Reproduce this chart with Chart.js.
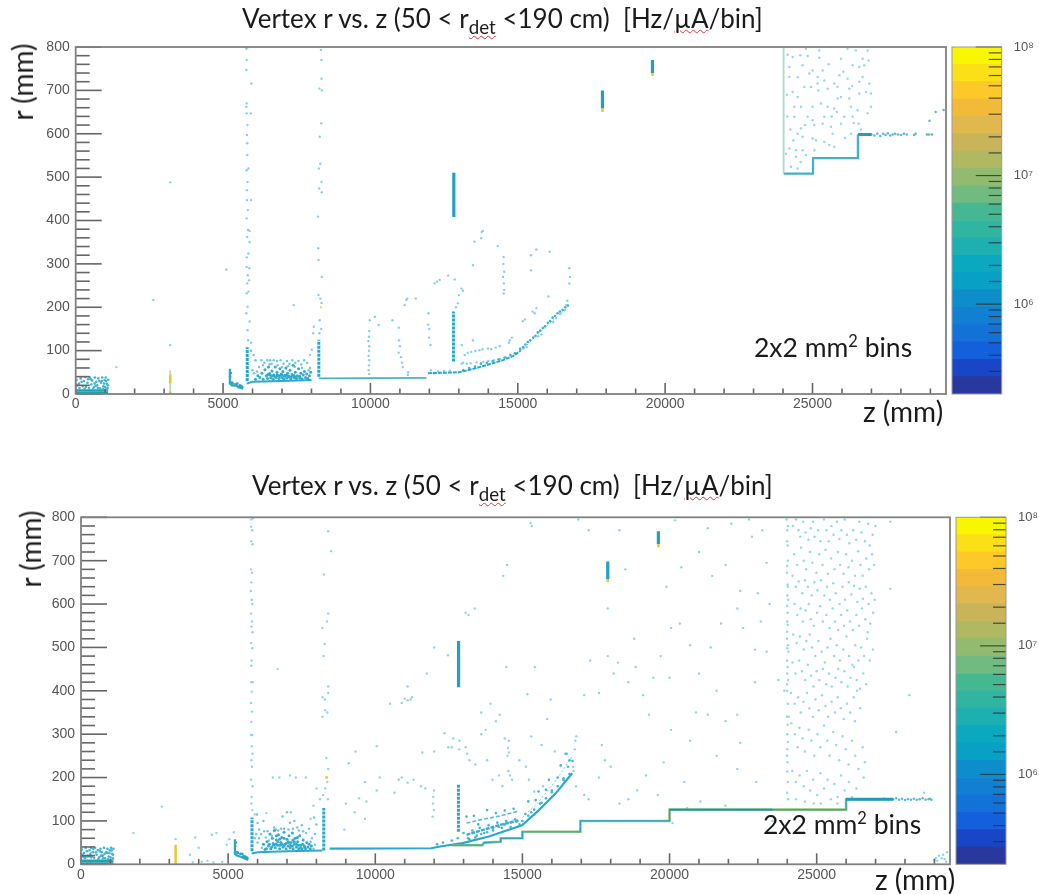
<!DOCTYPE html>
<html>
<head>
<meta charset="utf-8">
<title>Vertex r vs. z</title>
<script src="https://cdn.jsdelivr.net/npm/chart.js@4"></script>
<style>
html, body { margin: 0; padding: 0; background: #fff; overflow: hidden; width: 1039px; height: 895px; }
canvas { position: absolute; filter: blur(0.45px); }
.note { position: absolute; font-family: Lato, "Open Sans", sans-serif; color: #1a1a1a; white-space: pre; filter: blur(0.3px); }
.title { font-size: 26px; }
.axis { font-size: 28px; }
.bins { font-size: 26.5px; }
.note sub { font-size: 0.72em; line-height: 0; }
.note sup { font-size: 0.62em; line-height: 0; }
.spell { text-decoration: underline wavy #d9363e 1px; }
.rot { transform: translate(-50%, -50%) rotate(-90deg); }
</style>
</head>
<body>
<canvas id="plotTop" style="left:0;top:40px"></canvas>
<canvas id="barTop" style="left:950px;top:40px"></canvas>
<canvas id="plotBottom" style="left:0;top:510px"></canvas>
<canvas id="barBottom" style="left:954px;top:510px"></canvas>

<div class="note title" style="left:242px;top:2px">Vertex r vs. z (50 &lt; r<sub class="spell">det</sub> &lt;190 cm)  [Hz/<span class="spell">µA</span>/bin]</div>
<div class="note title" style="left:252px;top:469px">Vertex r vs. z (50 &lt; r<sub class="spell">det</sub> &lt;190 cm)  [Hz/<span class="spell">µA</span>/bin]</div>
<div class="note axis rot" style="left:22px;top:82px">r (mm)</div>
<div class="note axis rot" style="left:30px;top:549px">r (mm)</div>
<div class="note axis" style="left:863px;top:394px">z (mm)</div>
<div class="note axis" style="left:875px;top:862px">z (mm)</div>
<div class="note bins" style="left:754px;top:331px">2x2 mm<sup>2</sup> bins</div>
<div class="note bins" style="left:763px;top:808px">2x2 mm<sup>2</sup> bins</div>

<script>
// axis ranges and tick values
const zRange = [0, 29530];
const rRange = [0, 800];
const zTicks = [0, 1000, 2000, 3000, 4000, 5000, 6000, 7000, 8000, 9000, 10000, 11000, 12000, 13000, 14000, 15000, 16000, 17000, 18000, 19000, 20000, 21000, 22000, 23000, 24000, 25000, 26000, 27000, 28000, 29000];
const colorRange = [2e5, 1e8];
const colorDecades = [1e6, 1e7, 1e8];
const colorDecadeLabels = ["10⁶", "10⁷", "10⁸"];

// palette steps of the colour bar, bottom to top
const bandEdges = [2e5, 2.73e5, 3.72e5, 5.08e5, 6.93e5, 9.46e5, 1.29e6, 1.76e6, 2.4e6, 3.28e6, 4.47e6, 6.1e6, 8.33e6, 1.14e7, 1.55e7, 2.12e7, 2.89e7, 3.94e7, 5.38e7, 7.34e7, 1e8];
const bandColors = ["#28389f", "#1846c6", "#145fdc", "#1372d8", "#1180d2", "#0d8ecb", "#09a0c6", "#0ba9bf", "#1eafb0", "#30b5a0", "#45b892", "#72bb80", "#92bb6f", "#b1b862", "#c9b45a", "#e0b84e", "#f3ba3a", "#fcc928", "#fbe018", "#f9f700"];

// ---- top panel, [z, r] in mm ----
const topFloorA = [[8250, 36], [11900, 37]];
const topFloorB = [[11950, 48], [13000, 50], [13500, 58], [14000, 68], [14500, 78], [14850, 88], [15100, 100]];
const topFloorC = [[5800, 24], [6000, 28], [7000, 30], [8000, 32]];
const topCurve = [[15100, 100], [15500, 125], [16000, 158], [16400, 182], [16700, 200]];
const topStreaks = [
  [[5820, 30], [5820, 108]],
  [[8250, 40], [8250, 125]],
  [[12820, 75], [12820, 190]]
];
const topBlocks = [
  [[12830, 408], [12830, 510]],
  [[17874, 658], [17874, 700]],
  [[19570, 740], [19570, 770]]
];
const topYellow = [
  [[17874, 650], [17874, 658]],
  [[19570, 733], [19570, 740]],
  [[3207, 0], [3207, 6]],
  [[3207, 25], [3207, 45]],
  [[8300, 200], [8340, 200]]
];
const topPale = [[[3207, 0], [3207, 55]], [[24020, 510], [24020, 800]]];
const topHook = [[5230, 58], [5230, 24], [5300, 20], [5450, 19], [5600, 14], [5680, 12]];
const topBlockLines = [[[0, 2], [1100, 2]], [[0, 8], [1100, 8]]];
const topSteps = [[24020, 508], [25017, 508], [25017, 544], [26540, 544], [26540, 598]];
const topStepEnd = [[26540, 598], [27000, 598]];

const topSparse = [
  [5790, 796], [5830, 798], [5800, 770], [5790, 747], [5960, 716], [5800, 670], [5790, 662], [5940, 647], [5800, 647], [5830, 620], [5810, 597], [5820, 578],
  [5820, 551], [5800, 516], [5860, 520], [5830, 489], [5810, 470], [5950, 447], [5810, 447], [5840, 424], [5800, 405], [5850, 378], [5900, 376], [5820, 362],
  [5900, 350], [5860, 324], [5810, 315], [5800, 293], [5890, 290], [5840, 274], [5880, 262], [5820, 255], [5800, 232], [5860, 236], [5830, 201], [5790, 186],
  [5900, 167], [5830, 147], [5850, 124], [5950, 118],
  [8320, 793], [8340, 770], [8340, 727], [8270, 704], [8350, 700], [8330, 624], [8280, 593], [8300, 531], [8250, 520], [8340, 489], [8260, 474], [8350, 465], [8220, 409],
  [8230, 336], [8240, 309], [8350, 270], [8240, 228], [8300, 220], [8340, 210], [8280, 170], [8330, 150], [8270, 140],
  [3207, 488], [3207, 113], [2630, 217], [1380, 62], [5110, 287], [7400, 205], [8010, 102], [7950, 90], [8060, 140], [8080, 155],
  [13818, 376], [13780, 374], [13760, 359], [13530, 351], [14320, 341], [13480, 297], [12635, 273], [12350, 263], [12180, 255], [12260, 259], [12860, 264], [13090, 243], [13140, 238], [13000, 228], [12970, 209], [12900, 200],
  [14520, 316], [14510, 300], [14540, 282], [14500, 270], [14530, 255], [14540, 240], [14520, 232],
  [11220, 217], [11540, 220], [11160, 205], [11250, 220], [9980, 170], [10150, 178], [10280, 159], [10750, 170], [10960, 153],
  [10970, 124], [11000, 110], [10960, 95], [11040, 85], [11070, 72], [11100, 62], [11270, 44], [11280, 50],
  [11970, 186], [11960, 160], [11990, 130], [12040, 113], [12000, 150],
  [9960, 145], [9950, 132], [9930, 122], [9960, 110], [9950, 100], [9940, 88], [9960, 78], [9950, 66], [9940, 55], [9960, 46],
  [13100, 113], [13480, 124], [13200, 90], [13300, 95], [13420, 97], [13560, 99], [13700, 101], [13800, 103], [13990, 105], [14100, 103], [14250, 107], [14390, 110], [14730, 124], [14800, 130], [14700, 118],
  [13090, 70], [13150, 72], [13270, 70], [13400, 71], [13600, 73], [13830, 74], [14000, 76], [14200, 78], [14400, 80], [14600, 84],
  [12050, 55], [12300, 52], [12500, 53], [12150, 48], [12700, 54],
  [15630, 333], [15450, 320], [16080, 328], [15450, 285], [16750, 290], [16770, 270], [16750, 255], [16040, 225], [15630, 198], [15500, 190], [15570, 186], [15170, 168], [15250, 172],
  [16680, 215], [16650, 205], [16590, 193], [16450, 185], [16300, 175], [16200, 166], [15800, 137], [15700, 133], [15300, 108], [15200, 105]
];

const topCloudSparse = [
  [24158, 782], [24327, 777], [24587, 781], [24836, 779], [25231, 775], [25005, 746], [25344, 746], [24214, 754], [24214, 731], [24327, 696], [24497, 685], [24722, 708],
  [24948, 708], [25175, 716], [25400, 723], [25740, 716], [25965, 773], [26045, 743], [26361, 758], [26587, 754], [26757, 758], [26903, 769], [26700, 731], [26926, 716],
  [26587, 720], [26191, 727], [26248, 704], [25853, 708], [25514, 704], [25965, 685], [26248, 681], [26587, 693], [26982, 693], [26982, 662], [26870, 647], [26304, 662],
  [26530, 654], [26078, 639], [25740, 658], [25514, 662], [25288, 670], [25005, 662], [24836, 639], [24610, 662], [24384, 662], [24384, 639], [24610, 612], [25005, 631],
  [25344, 623], [25062, 620], [25626, 616], [25683, 600], [25965, 623], [26361, 639], [26564, 623], [26304, 600], [25570, 574], [25740, 570], [25400, 581], [25118, 585],
  [25005, 589], [24666, 593], [24497, 600], [24214, 566], [24440, 562], [24666, 562], [25062, 562], [24779, 551], [24440, 547], [24101, 554], [24270, 524], [24497, 520],
  [25910, 735], [26700, 773], [26470, 792], [25230, 792], [24780, 796], [25620, 800], [26190, 796], [25175, 731], [24666, 758], [26870, 792], [24890, 739], [25853, 681],
  [26813, 696], [25400, 639], [24130, 690], [24250, 610], [25830, 650], [26100, 590], [26650, 610], [25200, 700], [24500, 730], [25550, 760], [26350, 710], [24750, 620],
  [25650, 640], [26400, 625], [24350, 585], [24600, 535], [24150, 640]
];
const topTail = [
  [27000, 598], [27100, 596], [27200, 600], [27300, 595], [27400, 600], [27480, 597], [27560, 601], [27640, 596], [27720, 598], [27800, 600], [27900, 598], [28000, 597], [28100, 600], [28200, 598],
  [28450, 597], [28500, 600], [28880, 598], [28950, 598], [29050, 598],
  [28970, 630], [29180, 650], [29450, 655]
];
const topDenseA = [
  [6100, 34], [6180, 42], [6250, 38], [6320, 48], [6360, 34], [6420, 56], [6470, 42], [6510, 36], [6540, 62], [6580, 47], [6620, 38], [6660, 53], [6700, 34], [6730, 44], [6770, 62],
  [6800, 38], [6830, 50], [6870, 42], [6900, 36], [6930, 58], [6970, 46], [7000, 38], [7030, 52], [7060, 34], [7100, 43], [7130, 60], [7160, 37], [7190, 48], [7230, 41], [7270, 55],
  [7300, 35], [7340, 45], [7380, 66], [7410, 38], [7450, 50], [7490, 36], [7520, 42], [7560, 58], [7600, 37], [7640, 48], [7680, 35], [7720, 44], [7760, 52], [7800, 38], [7840, 46], [7880, 36], [7930, 42], [7970, 50],
  [6520, 45], [6600, 44], [6680, 42], [6760, 40], [6840, 44], [6920, 42], [7000, 44], [7080, 41], [7160, 43], [7240, 39], [7320, 40], [7400, 43], [7480, 40], [7600, 41]
];
const topCloudLow = [
  [6100, 78], [6220, 62], [6300, 78], [6400, 72], [6500, 78], [6600, 78], [6650, 70], [6720, 78], [6830, 76], [6950, 78], [7050, 70], [7170, 76], [7250, 70], [7350, 78], [7450, 72],
  [7560, 76], [7650, 68], [7750, 78], [7850, 72], [7950, 60], [6040, 90], [6000, 55], [5950, 100], [6050, 48], [6150, 52], [6350, 66], [6580, 68], [6850, 66], [7000, 62], [7200, 64], [7430, 62], [7680, 60], [7900, 55]
];
const topOrigin = [
  [30, 32], [110, 24], [170, 36], [240, 18], [280, 30], [330, 39], [400, 26], [450, 14], [480, 38], [530, 22], [560, 31], [620, 16], [650, 38], [700, 28], [730, 20], [770, 36], [820, 13], [860, 26],
  [900, 38], [940, 18], [980, 32], [1020, 38], [1050, 24], [1080, 14], [1100, 33], [130, 14], [350, 16], [590, 12], [750, 14], [920, 12], [1000, 16], [1060, 10], [200, 28], [420, 34], [680, 19], [880, 30],
  [60, 20], [300, 12], [510, 34], [640, 24], [800, 30], [960, 24], [1030, 30], [1090, 20]
];
const topHookDots = [[5240, 40], [5260, 48], [5330, 24], [5420, 22], [5520, 16], [5480, 24], [5570, 20], [5620, 18], [5300, 26], [5650, 16]];
const topCurveDots = [
  [15080, 104], [15180, 108], [15260, 114], [15340, 120], [15420, 124], [15520, 130], [15600, 134], [15680, 142], [15760, 146], [15850, 152], [15930, 156], [16020, 164], [16100, 168], [16180, 176], [16260, 180], [16350, 186], [16430, 190], [16520, 194], [16610, 200], [16700, 204],
  [13150, 55], [13350, 60], [13550, 63], [13750, 70], [13950, 72], [14150, 76], [14350, 80], [14550, 84], [14750, 90], [14900, 94]
];

// ---- bottom panel ----
const botFloorA = [[8450, 36], [11900, 37], [12200, 41], [12960, 49], [13860, 64], [14985, 90], [15560, 125], [16125, 163], [16690, 210]];
const botFloorC = [[5800, 25], [6000, 28], [7000, 30], [8200, 32]];
const botTrackA = [[13100, 95], [13600, 103], [14200, 111], [14850, 122]];
const botTrackB = [[13100, 68], [13600, 78], [14200, 90], [14900, 102]];
const botTrackC = [[15000, 108], [15500, 140], [16100, 190], [16690, 248]];
const botStreaks = [
  [[5810, 30], [5810, 108]],
  [[8250, 32], [8250, 130]],
  [[12825, 75], [12825, 185]]
];
const botBlocks = [
  [[12830, 408], [12830, 515]],
  [[17900, 658], [17900, 698]],
  [[19620, 738], [19620, 768]]
];
const botYellow = [
  [[17900, 650], [17900, 658]],
  [[19620, 731], [19620, 738]],
  [[3215, 0], [3215, 45]],
  [[8300, 200], [8390, 200]]
];
const botHook = [[5230, 58], [5230, 24], [5300, 20], [5450, 17], [5600, 12], [5680, 10]];
const botBlockLines = [[[0, 2], [1100, 2]], [[0, 8], [1100, 8]], [[0, 18], [400, 19]]];
const botSteps = [[12600, 44], [13630, 44], [13700, 50], [14260, 52], [14260, 60], [15000, 60], [15000, 75], [16970, 75], [16970, 100], [20000, 100], [20000, 126], [26000, 126], [26000, 150], [27300, 150]];
const botStepCore = [[20000, 126], [23500, 126]];
const botStepEnd = [[26000, 150], [27600, 150]];

const botSparse = [
  [5790, 795], [5850, 798], [5780, 778], [5820, 770], [5790, 745], [5830, 738], [5780, 680], [5810, 672], [5790, 650], [5770, 630], [5800, 610], [5820, 600], [5780, 578], [5810, 560], [5790, 548],
  [5830, 535], [5780, 510], [5820, 498], [5800, 470], [5790, 458], [5790, 420], [5830, 420], [5800, 398], [5780, 372], [5810, 352], [5790, 328], [5820, 298], [5780, 298], [5800, 272], [5830, 255],
  [5790, 240], [5810, 225], [5780, 195], [5830, 180], [5800, 155], [5790, 140], [5820, 125], [5900, 115],
  [8400, 768], [8500, 722], [8250, 668], [8400, 578], [8360, 560], [8200, 545], [8280, 508], [8240, 480], [8400, 410], [8400, 395], [8210, 385], [8290, 380], [8300, 355], [8370, 350], [8200, 340],
  [8340, 245], [8400, 220], [8370, 190], [8300, 175], [8230, 160], [8390, 150],
  [6680, 450], [6740, 200], [6520, 200], [7100, 205], [7300, 200], [7640, 200], [8000, 175], [8120, 150], [7900, 135], [7800, 105], [2750, 133], [1780, 72], [7130, 120], [6300, 118],
  [3215, 58], [4000, 38], [3880, 62], [3700, 22], [5040, 58], [4600, 72], [4450, 68], [4950, 45], [3800, 4], [4100, 6], [4500, 4], [4800, 6], [4300, 8], [5200, 74],
  [11100, 410], [11250, 385], [11000, 382], [11100, 378], [11200, 380], [10500, 370], [10900, 372], [12000, 500], [12470, 482], [11750, 440],
  [13070, 580], [13380, 590], [13170, 575], [14480, 690], [14350, 665], [14450, 455], [13920, 370], [13600, 350], [14230, 345], [14100, 330],
  [12860, 285], [13070, 270], [13120, 255], [13200, 240], [12360, 302], [12650, 290], [12850, 265], [12480, 270], [12600, 270], [12000, 260], [11600, 258], [10050, 272], [9330, 260], [9100, 233], [9450, 152],
  [10150, 200], [10050, 170], [9650, 190], [9700, 145], [9000, 140], [9300, 120], [8950, 80], [9650, 105], [10650, 165], [10800, 195], [10900, 200], [11100, 188], [11300, 195], [11550, 180], [11700, 175],
  [12000, 170], [11970, 155], [11960, 140], [11990, 125], [11950, 110], [13400, 230], [13800, 240], [13600, 300], [13750, 310], [13980, 195], [14200, 205], [14320, 180],
  [14540, 285], [14510, 268], [14540, 258], [14490, 250], [14520, 215], [14580, 205], [14650, 195], [14400, 290], [14900, 240], [15120, 225], [15220, 195], [15400, 168], [15700, 180],
  [15170, 392], [15420, 455], [15960, 380], [15840, 335], [15300, 295], [15650, 275], [16100, 260], [16450, 255], [16800, 285], [16830, 295], [16780, 265], [16720, 225], [16740, 215],
  [16820, 180], [17100, 160], [17250, 150], [17600, 200], [18000, 225], [17700, 275], [17800, 240], [18300, 140], [18600, 150], [18900, 170], [19200, 205], [19600, 160], [20100, 95], [20600, 130],
  [17100, 390], [17300, 470], [17600, 395], [17900, 480], [18100, 440], [18250, 465], [18600, 420], [18800, 520], [19100, 390], [18850, 455], [19300, 345], [19450, 430], [19700, 480], [20050, 545],
  [20350, 555], [20000, 430], [20700, 505], [21000, 440], [21400, 500], [21750, 555], [22300, 590], [22500, 545], [22900, 495], [23100, 560], [23400, 600], [23300, 490], [23700, 425], [22900, 420],
  [23000, 625], [22400, 630], [21900, 690], [21450, 665], [21000, 720], [20400, 685], [19900, 640], [17900, 590], [18500, 680], [18300, 770], [15320, 780], [15280, 787], [17250, 770], [16900, 795], [20180, 793],
  [21300, 775], [22100, 785], [22700, 795], [23150, 770], [22800, 755], [23300, 695], [21600, 400], [21300, 345], [20900, 350], [21900, 330], [22300, 345], [22400, 280], [20700, 285], [20050, 310], [20500, 190], [21600, 250],
  [23900, 400], [24050, 340], [23500, 100], [22950, 190], [22300, 220], [21900, 135], [21050, 145], [19800, 235], [28150, 390], [27700, 305], [28650, 165], [27500, 635], [27000, 780], [27500, 790],
  [29000, 10], [29100, 8], [29250, 14], [29400, 6], [29150, 20], [29300, 22], [29430, 28], [29050, 14], [29350, 12]
];

const botCloud = [
  [23978, 795], [24020, 780], [24000, 770], [23990, 745], [24010, 735], [24020, 700], [24000, 688], [23990, 672], [24010, 645], [24020, 640], [24000, 620], [24030, 610], [23990, 596], [24010, 580], [24000, 560], [24020, 552], [24000, 536],
  [23990, 520], [24020, 505], [24000, 498], [24040, 490], [23990, 470], [24010, 455], [24000, 440], [24030, 425], [23990, 415], [24000, 400], [24020, 370], [23990, 340], [24010, 322], [24000, 300], [24020, 282], [24000, 265], [23990, 250], [24010, 235], [24000, 214], [24020, 190], [24000, 165], [24030, 150],
  [24190, 780], [24300, 795], [24380, 770], [24440, 755], [24540, 790], [24620, 765], [24720, 748], [24800, 775], [24880, 790], [24930, 755], [25050, 770], [25130, 745], [25250, 795], [25330, 770], [25410, 745], [25500, 780], [25570, 760], [25690, 790], [25770, 750], [25840, 770], [25950, 795], [26030, 760], [26110, 740], [26240, 770], [26340, 748], [26450, 790], [26520, 765], [26640, 745], [26750, 785], [26800, 735], [26900, 760],
  [24230, 715], [24340, 690], [24470, 730], [24560, 700], [24640, 680], [24770, 720], [24860, 695], [24990, 672], [25090, 715], [25200, 690], [25300, 725], [25380, 670], [25490, 705], [25610, 680], [25720, 720], [25800, 690], [25910, 670], [26000, 715], [26080, 685], [26200, 700], [26300, 665], [26410, 722], [26490, 690], [26560, 665], [26690, 705], [26780, 680], [26880, 715], [26950, 690],
  [24180, 665], [24290, 640], [24390, 652], [24510, 625], [24600, 655], [24700, 640], [24830, 620], [24920, 650], [25030, 632], [25150, 655], [25260, 620], [25350, 640], [25450, 610], [25560, 648], [25650, 625], [25780, 600], [25880, 640], [25960, 610], [26090, 650], [26180, 622], [26270, 642], [26380, 605], [26460, 635], [26570, 612], [26670, 640], [26760, 600], [26860, 625], [26970, 610],
  [24250, 600], [24340, 575], [24450, 590], [24530, 560], [24620, 585], [24730, 600], [24800, 565], [24900, 550], [25010, 580], [25120, 595], [25210, 560], [25330, 575], [25440, 545], [25540, 590], [25620, 560], [25730, 540], [25830, 575], [25930, 550], [26040, 585], [26130, 560], [26230, 540], [26350, 575], [26440, 550], [26540, 590], [26650, 565], [26730, 535], [26820, 555], [26920, 580],
  [24200, 530], [24320, 510], [24430, 525], [24560, 495], [24650, 515], [24760, 530], [24840, 500], [24950, 480], [25060, 515], [25170, 490], [25280, 465], [25370, 500], [25470, 520], [25590, 480], [25680, 505], [25790, 470], [25900, 495], [26010, 525], [26100, 480], [26210, 460], [26310, 505], [26420, 470], [26510, 500], [26610, 480], [26710, 520], [26800, 470], [26910, 495],
  [24180, 465], [24280, 440], [24400, 470], [24500, 445], [24610, 425], [24700, 460], [24810, 435], [24890, 410], [25000, 445], [25090, 425], [25210, 450], [25320, 415], [25420, 440], [25510, 410], [25640, 430], [25730, 450], [25840, 420], [25940, 445], [26050, 410], [26150, 430], [26270, 455], [26360, 425], [26470, 405], [26580, 440], [26680, 415],
  [24130, 395], [24250, 370], [24370, 385], [24460, 350], [24550, 375], [24670, 395], [24750, 360], [24870, 340], [24960, 380], [25070, 355], [25180, 390], [25300, 365], [25390, 340], [25510, 375], [25620, 350], [25710, 385], [25820, 360], [25920, 335], [26030, 370], [26140, 350], [26260, 385], [26370, 400], [26480, 360], [26300, 330],
  [24140, 325], [24260, 300], [24350, 270], [24410, 315], [24520, 290], [24600, 260], [24730, 310], [24820, 285], [24920, 250], [25030, 300], [25130, 270], [25250, 320], [25360, 285], [25440, 250], [25560, 305], [25660, 275], [25760, 240], [25880, 295], [25990, 265], [26080, 230], [26200, 285], [26310, 250], [26420, 220], [26560, 270], [26640, 235], [26600, 200],
  [24170, 215], [24290, 190], [24420, 205], [24560, 180], [24670, 215], [24780, 170], [24880, 195], [25020, 160], [25130, 210], [25250, 175], [25370, 195], [25480, 150], [25600, 185], [25710, 155], [25830, 205], [25950, 170], [26090, 190], [26200, 155], [26350, 175], [24300, 150], [24600, 145], [25140, 140], [25700, 140], [24900, 140]
];

const botTail = [
  [27300, 151], [27450, 149], [27600, 150], [27700, 152], [27800, 149], [27900, 151], [28000, 148], [28100, 150], [28200, 149], [28300, 151], [28400, 149], [28500, 150], [28600, 152], [28700, 149], [28800, 150], [28850, 151], [28900, 149]
];
const botDenseA = [
  [6250, 34], [6320, 52], [6370, 42], [6420, 70], [6450, 36], [6500, 60], [6530, 48], [6570, 78], [6600, 38], [6640, 56], [6680, 44], [6710, 68], [6750, 36], [6790, 50], [6820, 62], [6860, 40], [6900, 74], [6930, 46], [6970, 36], [7000, 58],
  [7040, 42], [7070, 66], [7110, 38], [7140, 50], [7180, 72], [7210, 36], [7250, 46], [7280, 60], [7320, 40], [7360, 52], [7400, 36], [7430, 66], [7470, 44], [7510, 36], [7550, 56], [7590, 42], [7630, 36], [7670, 50], [7710, 40], [7750, 46], [7790, 36], [7830, 42],
  [6550, 44], [6620, 47], [6690, 52], [6760, 44], [6830, 46], [6900, 42], [6970, 48], [7040, 52], [7110, 44], [7180, 42], [7250, 52], [7320, 46], [7390, 44], [7460, 38], [7530, 46], [7600, 40], [6640, 66], [6750, 58], [6900, 60], [7050, 50], [7200, 56], [7350, 62], [6480, 40], [6400, 46], [6300, 36], [6200, 46]
];
const botCloudLow = [
  [6200, 100], [6050, 80], [6120, 70], [6280, 62], [6380, 55], [6000, 50], [6150, 38], [6050, 60], [6560, 85], [6800, 82], [6850, 110], [7000, 120], [7100, 96], [7250, 100], [7350, 85], [7500, 90], [7650, 72], [7750, 82], [7850, 60], [7950, 70], [8000, 92], [7920, 108],
  [6620, 80], [6700, 78], [6900, 82], [7050, 80], [7200, 82], [7400, 78], [7550, 76], [7800, 52], [7950, 45], [7900, 36], [6480, 66], [6340, 76], [6220, 76], [5980, 115], [6000, 95], [5950, 70], [5900, 60]
];
const botOrigin = [
  [30, 34], [100, 26], [160, 38], [220, 20], [290, 32], [340, 38], [400, 28], [450, 15], [480, 38], [530, 22], [570, 33], [620, 16], [660, 36], [700, 28], [740, 20], [780, 38], [820, 14], [860, 28], [900, 36],
  [940, 18], [980, 32], [1020, 38], [1050, 24], [1085, 14], [1100, 36], [130, 14], [350, 16], [590, 12], [750, 14], [920, 12], [1000, 16], [1060, 10], [200, 30], [420, 35], [680, 20], [880, 26],
  [60, 22], [320, 24], [510, 28], [640, 30], [800, 24], [960, 26], [1040, 32], [1090, 22]
];
const botHookDots = [[5240, 42], [5260, 50], [5330, 26], [5420, 24], [5520, 18], [5480, 24], [5570, 18], [5620, 16], [5300, 28], [5650, 14]];
const botBandDots = [
  [13000, 72], [13150, 60], [13300, 78], [13450, 66], [13550, 84], [13700, 72], [13850, 90], [14000, 78], [14150, 96], [14300, 84], [14450, 100], [14600, 86], [14750, 104], [14900, 92], [15100, 116], [15300, 120], [15450, 148], [15650, 142], [15800, 172], [16000, 170], [16200, 200], [16400, 198], [16550, 225], [16700, 238],
  [13100, 110], [13350, 112], [13500, 92], [13800, 125], [14100, 118], [14400, 124], [14700, 128], [15200, 145], [15550, 168], [15900, 195], [16300, 228], [16500, 255], [16600, 240], [12600, 55], [12300, 50], [12100, 46], [12800, 60],
  [13200, 58], [13400, 62], [13600, 70], [13800, 74], [14000, 82], [14200, 86], [14400, 92], [14600, 96], [14800, 98], [15000, 100], [15200, 112], [15400, 126], [15600, 140], [15800, 152], [16000, 166], [16200, 180], [16400, 194], [16600, 208]
];

function pts(list) {
  return list.map(p => ({ x: p[0], y: p[1] }));
}
function dots(list, color, radius) {
  return { data: pts(list), showLine: false, pointRadius: radius, pointBorderWidth: 0, pointBackgroundColor: color };
}
function line(list, color, width, dash) {
  return { data: pts(list), showLine: true, pointRadius: 0, borderColor: color, borderWidth: width, borderCapStyle: "butt", borderJoinStyle: "miter", borderDash: dash || [] };
}

// the first sets are drawn on top
const topSets = [
  ...topYellow.map(l => line(l, "#e8c832", 2.5)),
  ...topBlocks.map(l => line(l, "#1fa0c4", 3.2)),
  ...topStreaks.map(l => line(l, "#2aa6c8", 3, [3, 1])),
  line(topStepEnd, "#1e9fc4", 3),
  line(topFloorB, "#2aa8ca", 2, [4, 1]),
  line(topFloorC, "#2ea9ca", 2),
  line(topHook, "#2aa6c6", 2.2),
  dots(topCurveDots, "#3fb2d2", 1.3),
  dots(topDenseA, "#30aace", 1.5),
  dots(topHookDots, "#2aa6c6", 1.4),
  dots(topOrigin, "#42b2d0", 1.3),
  ...topBlockLines.map(l => line(l, "#22a0ae", 2.6)),
  line(topCurve, "#74c8e0", 1, [2, 2]),
  dots(topCloudLow, "#6fc6e0", 1.25),
  dots(topTail, "#55b9d6", 1.25),
  dots(topSparse, "#86d0e7", 1.2),
  dots(topCloudSparse, "#94d8ec", 1.25),
  line(topSteps, "#3db2d0", 2.2),
  line(topFloorA, "#44b4d2", 1.8),
  ...topPale.map(l => line(l, "#a9dcc9", 1.8))
];

const botSets = [
  ...botYellow.map(l => line(l, "#e8c832", 2.5)),
  ...botBlocks.map(l => line(l, "#1fa0c4", 3.2)),
  ...botStreaks.map(l => line(l, "#2aa6c8", 3, [3, 1])),
  line(botStepEnd, "#1b9cc0", 3),
  line(botStepCore, "#1595b8", 1.8),
  line(botSteps, "#25a6c4", 1.2),
  line(botSteps, "#97c47e", 2.6),
  dots(botBandDots, "#45b3d2", 1.3),
  line(botFloorA, "#2aa8ca", 2.2),
  line(botFloorC, "#2ea9ca", 2),
  line(botTrackA, "#55bad8", 1.6, [4, 2]),
  line(botTrackB, "#38aed0", 2.4, [4, 1]),
  line(botTrackC, "#74c8e0", 1, [2, 2]),
  line(botHook, "#2aa6c6", 2.2),
  dots(botDenseA, "#30aace", 1.5),
  dots(botHookDots, "#2aa6c6", 1.4),
  dots(botOrigin, "#42b2d0", 1.3),
  ...botBlockLines.map(l => line(l, "#22a0ae", 2.6)),
  dots(botCloudLow, "#6fc6e0", 1.25),
  dots(botTail, "#55b9d6", 1.25),
  dots(botSparse, "#8ed4e9", 1.2),
  dots(botCloud, "#94d8ec", 1.25)
];

// ROOT style ticks, they point into the frame
const insideTicks = {
  id: "insideTicks",
  afterDatasetsDraw(chart) {
    const ctx = chart.ctx, a = chart.chartArea;
    ctx.save();
    ctx.strokeStyle = "#666";
    ctx.lineWidth = 1.6;
    chart.scales.y.ticks.forEach(t => {
      const y = chart.scales.y.getPixelForValue(t.value);
      const len = t.value % 100 === 0 ? 26 : 14;
      ctx.beginPath(); ctx.moveTo(a.left, y); ctx.lineTo(a.left + len, y); ctx.stroke();
    });
    chart.scales.x.ticks.forEach(t => {
      const x = chart.scales.x.getPixelForValue(t.value);
      const len = t.value % 5000 === 0 ? 11 : 5.5;
      ctx.beginPath(); ctx.moveTo(x, a.bottom); ctx.lineTo(x, a.bottom - len); ctx.stroke();
    });
    ctx.strokeStyle = "#808080";
    ctx.lineWidth = 1.8;
    ctx.strokeRect(a.left, a.top, a.right - a.left, a.bottom - a.top);
    ctx.restore();
  }
};

const barTicks = {
  id: "barTicks",
  afterDatasetsDraw(chart) {
    const ctx = chart.ctx, a = chart.chartArea, s = chart.scales.y;
    ctx.save();
    ctx.strokeStyle = "rgba(45,45,45,0.8)";
    ctx.lineWidth = 1.2;
    s.ticks.forEach(t => {
      if (t.value <= colorRange[0]) return;
      const y = s.getPixelForValue(t.value);
      const len = colorDecades.includes(t.value) ? 26 : 13;
      ctx.beginPath(); ctx.moveTo(a.right, y); ctx.lineTo(a.right - len, y); ctx.stroke();
    });
    ctx.strokeStyle = "#999";
    ctx.lineWidth = 1;
    ctx.strokeRect(a.left, a.top, a.right - a.left, a.bottom - a.top);
    ctx.restore();
  }
};

function makePlot(id, sets, w, h, yWidth, xHeight, padTop) {
  const el = document.getElementById(id);
  el.width = w; el.height = h;
  const tickFont = { family: "'Liberation Sans', Arial, sans-serif", size: 14 };
  return new Chart(el, {
    type: "scatter",
    data: { datasets: sets },
    options: {
      responsive: false,
      animation: false,
      layout: { padding: { top: padTop, right: 3, bottom: 0, left: 0 } },
      plugins: { legend: { display: false }, tooltip: { enabled: false } },
      scales: {
        x: {
          type: "linear", min: zRange[0], max: zRange[1],
          grid: { display: false, drawTicks: false }, border: { display: false },
          afterBuildTicks: s => { s.ticks = zTicks.map(v => ({ value: v })); },
          ticks: {
            autoSkip: false, maxRotation: 0, padding: 2, color: "#555", font: tickFont,
            callback: v => (v % 5000 === 0 ? String(v) : "")
          },
          afterFit: s => { s.height = xHeight; s.paddingLeft = 0; s.paddingRight = 0; }
        },
        y: {
          type: "linear", min: rRange[0], max: rRange[1],
          grid: { display: false, drawTicks: false }, border: { display: false },
          ticks: {
            stepSize: 20, autoSkip: false, padding: 6, color: "#555", font: tickFont,
            callback: v => (v % 100 === 0 ? String(v) : "")
          },
          afterFit: s => { s.width = yWidth; s.paddingTop = 0; s.paddingBottom = 0; }
        }
      }
    },
    plugins: [insideTicks]
  });
}

function makeBar(id, w, h, axisWidth, padTop, padBottom, labelPad) {
  const el = document.getElementById(id);
  el.width = w; el.height = h;
  const sets = bandColors.map((c, i) => ({
    data: [[bandEdges[i], bandEdges[i + 1]]],
    backgroundColor: c,
    borderWidth: 0,
    barPercentage: 1,
    categoryPercentage: 1,
    grouped: false
  }));
  return new Chart(el, {
    type: "bar",
    data: { labels: ["z"], datasets: sets },
    options: {
      responsive: false,
      animation: false,
      layout: { padding: { top: padTop, bottom: padBottom, left: 2, right: 0 } },
      plugins: { legend: { display: false }, tooltip: { enabled: false } },
      scales: {
        x: { display: false, stacked: false },
        y: {
          type: "logarithmic", position: "right", min: colorRange[0], max: colorRange[1],
          grid: { display: false, drawTicks: false }, border: { display: false },
          ticks: {
            autoSkip: false, padding: labelPad, color: "#555",
            font: { family: "'Liberation Sans', Arial, sans-serif", size: 13 },
            callback: v => {
              const i = colorDecades.indexOf(v);
              return i >= 0 ? colorDecadeLabels[i] : "";
            }
          },
          afterFit: s => { s.width = axisWidth; s.paddingTop = 0; s.paddingBottom = 0; }
        }
      }
    },
    plugins: [barTicks]
  });
}

makePlot("plotTop", topSets, 950, 390, 75.7, 36, 7);
makeBar("barTop", 89, 390, 37.3, 7, 36, 12);
makePlot("plotBottom", botSets, 954, 385, 81, 30.7, 7.3);
makeBar("barBottom", 85, 385, 33, 7.3, 30.7, 12);
</script>
</body>
</html>
